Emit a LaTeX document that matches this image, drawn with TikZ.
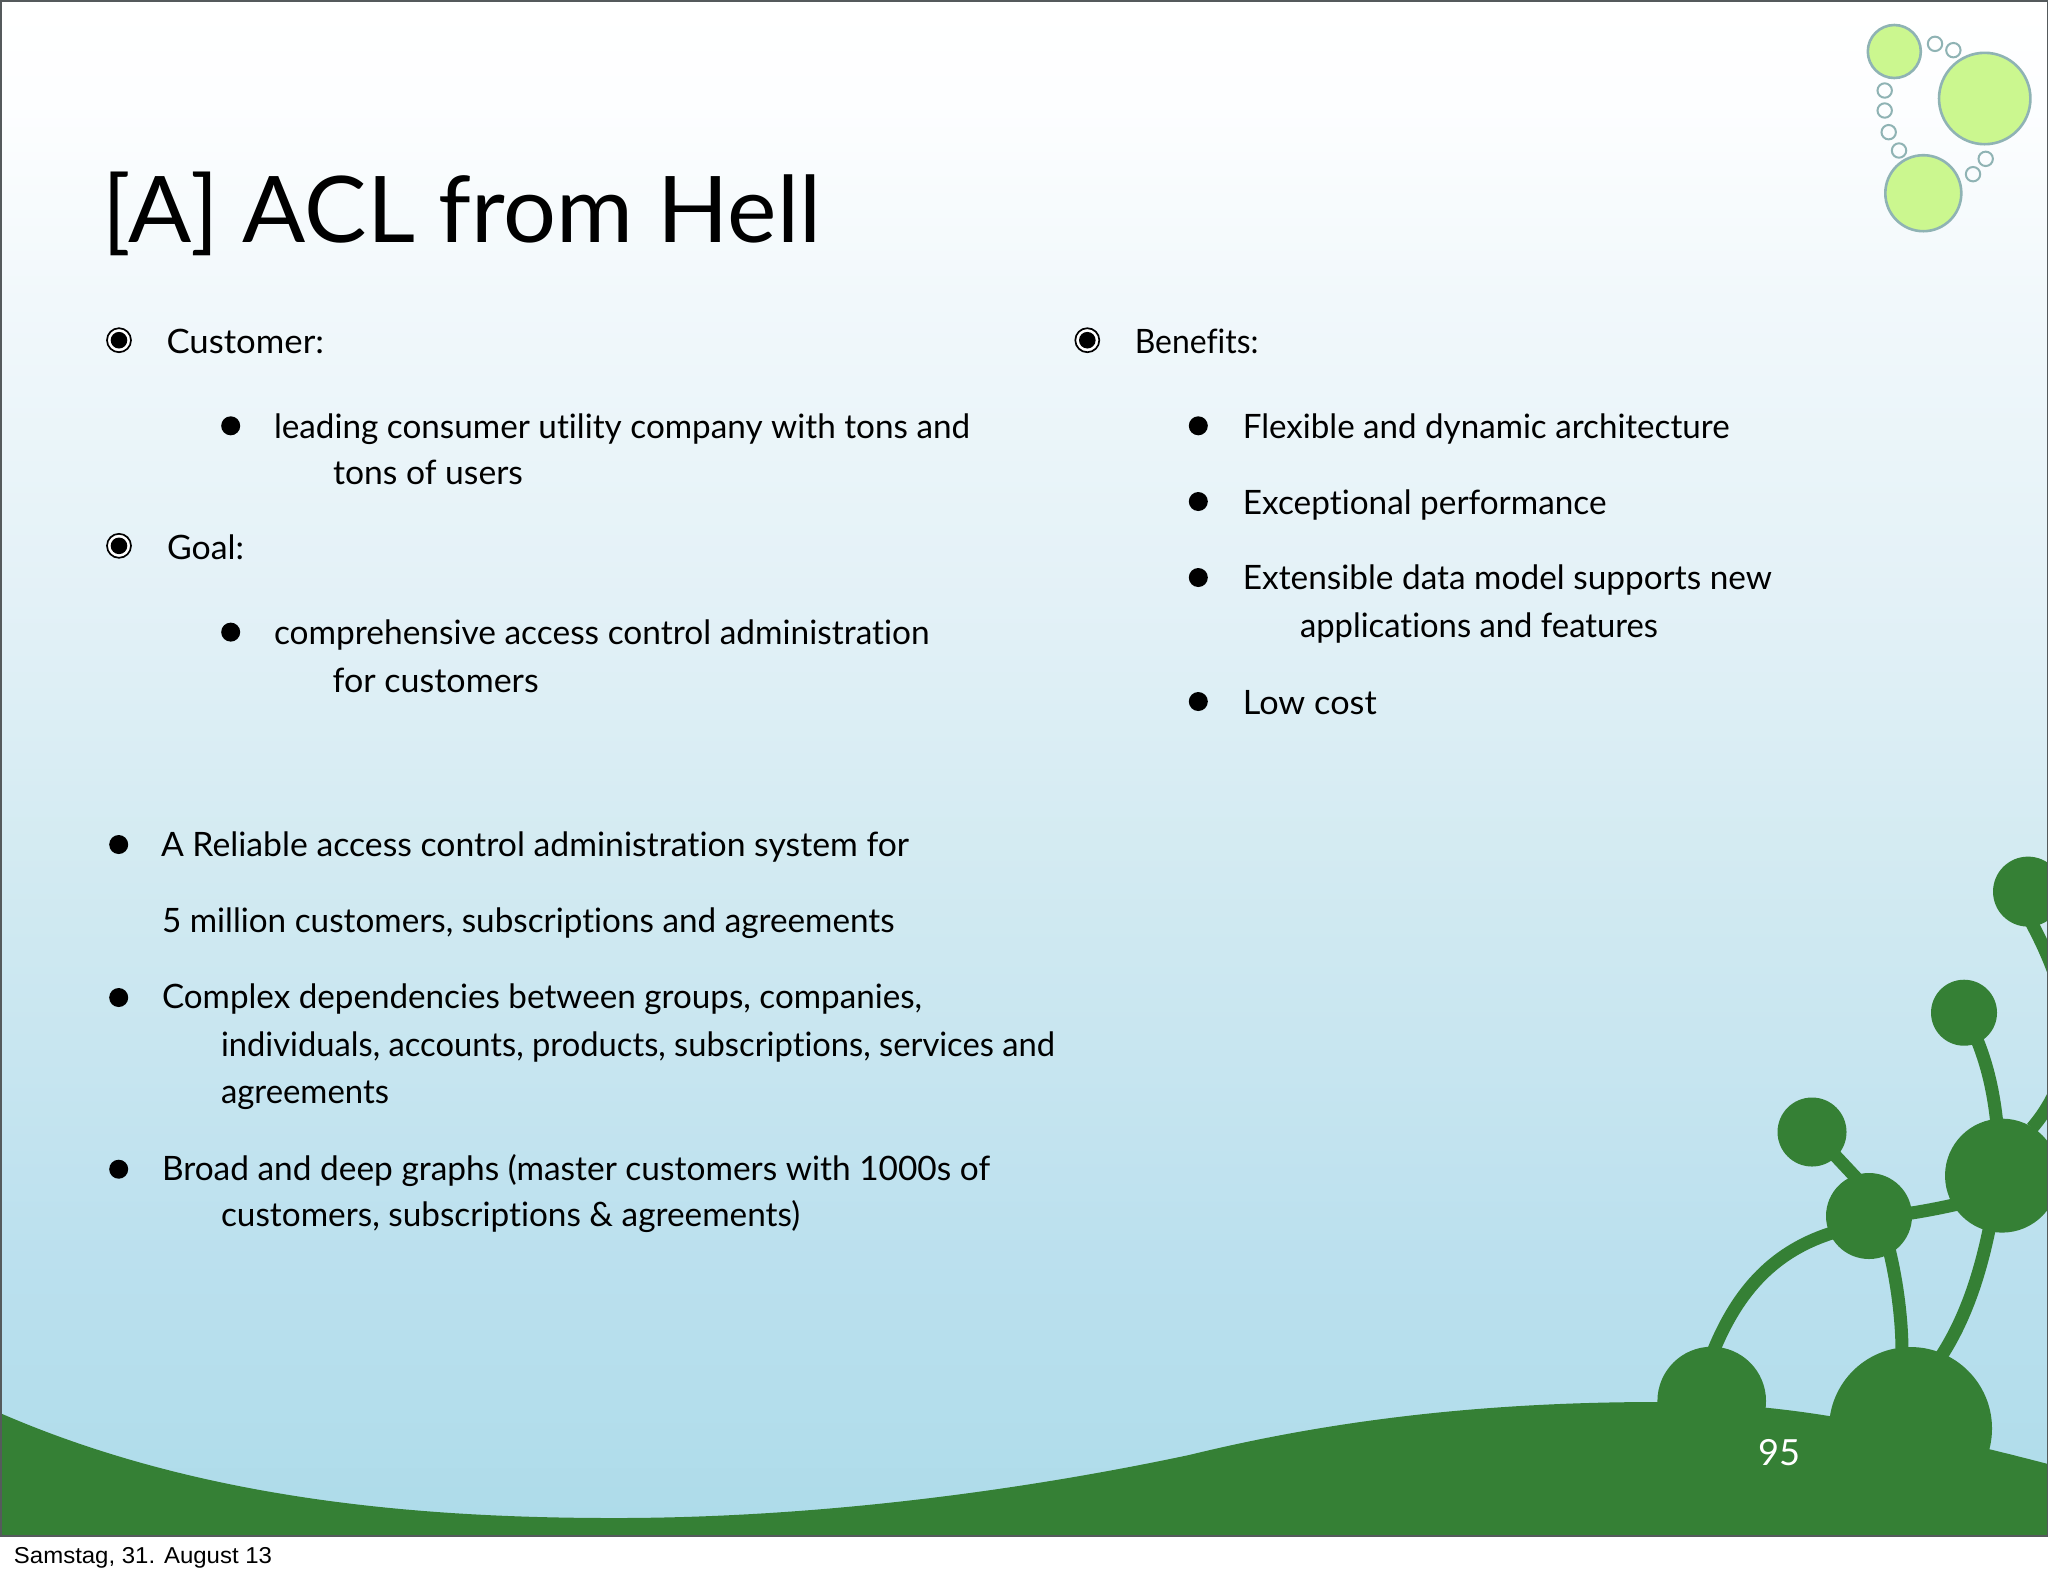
\documentclass[tikz,border=0pt]{standalone}
\usepackage{fontspec}
\usepackage{graphicx}
\setmainfont{Lato}[Ligatures=NoCommon]
\newfontfamily\footfont{Liberation Sans}
\newdimen\pxu \pxu=0.5pt
\newcommand{\fw}[2]{\resizebox{\dimexpr#1\pxu+2\pxu\relax}{\height}{#2}}
\definecolor{hill}{HTML}{358035}
\definecolor{ring}{HTML}{8FB3B4}
\definecolor{lime}{HTML}{CBF78F}
\definecolor{edgegray}{HTML}{555A5C}
\definecolor{c0}{HTML}{ADDBE9}
\definecolor{c1}{HTML}{B4DEEC}
\definecolor{c2}{HTML}{BBE0EE}
\definecolor{c3}{HTML}{D4EBF2}
\definecolor{c4}{HTML}{E3F1F7}
\definecolor{c5}{HTML}{F1F8FB}
\definecolor{c6}{HTML}{FDFEFF}
\pgfdeclareverticalshading{slidegrad}{100bp}{
 color(0bp)=(c0); color(25bp)=(c0); color(29.4bp)=(c1); color(34bp)=(c2);
 color(47.6bp)=(c3); color(55.5bp)=(c4); color(65.2bp)=(c5); color(71.7bp)=(c6);
 color(75bp)=(white); color(100bp)=(white)}
\tikzset{
 txt/.style={anchor=base west,inner sep=0pt,outer sep=0pt,text=black,font=\fontsize{16.8pt}{20pt}\selectfont},
 titletxt/.style={txt,font=\fontsize{46pt}{54pt}\selectfont},
 foot/.style={txt,font=\footfont\fontsize{11.5pt}{14pt}\selectfont},
 pagenum/.style={txt,text=white,font=\fontsize{18pt}{22pt}\selectfont},
 bigbubble/.style={fill=lime,draw=ring,line width=1.3pt},
 smallbubble/.style={draw=ring,line width=1pt},
 stem/.style={draw=hill,line width=6.5pt,line cap=butt},
 dotb/.style={fill=black},
}
\newcommand{\tgt}[2]{%
 \draw[black,line width=0.85pt,fill=white] (#1,#2) circle (12);
 \fill[black] (#1,#2) circle (8.3);}
\newcommand{\dotm}[2]{\fill[dotb] (#1,#2) circle (9.5);}
\begin{document}
\begin{tikzpicture}[x=0.5pt,y=-0.5pt]
\useasboundingbox (0,0) rectangle (2048,1576);
\fill[white] (0,0) rectangle (2048,1576);
\shade[shading=slidegrad] (0,0) rectangle (2048,1535);
\begin{scope}
\clip (0,0) rectangle (2048,1535);
% hill
\fill[hill] (0,1413) .. controls (200,1500) and (420,1518) .. (615,1518)
 .. controls (800,1518) and (1000,1495) .. (1189,1455)
 .. controls (1300,1428) and (1450,1402) .. (1657,1402)
 .. controls (1720,1402) and (1780,1408) .. (1829,1416)
 .. controls (1890,1426) and (1960,1441) .. (2048,1464)
 -- (2048,1535) -- (0,1535) -- cycle;
% mounds
\fill[hill] (1711.7,1401) circle (54.3);
\fill[hill] (1910.5,1428.5) circle (81.5);
% stems
\path[stem] (1713,1352) .. controls (1738,1290) and (1775,1250) .. (1835,1232);
\path[stem] (1888,1245) .. controls (1897,1280) and (1902,1320) .. (1902,1352);
\path[stem] (1990,1225) .. controls (1980,1275) and (1965,1320) .. (1940,1358);
\path[stem] (1905,1214) .. controls (1925,1211) and (1940,1208) .. (1958,1204);
\path[stem] (1830,1150) -- (1860,1182);
\path[stem] (1975,1035) .. controls (1988,1065) and (1994,1095) .. (1997,1125);
\path[stem] (2030,920) .. controls (2065,985) and (2090,1060) .. (2032,1128);
% heads
\fill[hill] (2028,891.6) circle (35);
\fill[hill] (1964,1012.7) circle (33);
\fill[hill] (1812,1132) circle (34.5);
\fill[hill] (1869,1216) circle (43);
\fill[hill] (2002,1175.6) circle (57);
\end{scope}
% frame
\fill[edgegray] (0,0) rectangle (2048,1.5);
\fill[edgegray] (0,0) rectangle (1.5,1537);
\fill[edgegray] (2047,0) rectangle (2048,1537);
\fill[edgegray] (0,1535) rectangle (2048,1537);
% top decoration
\draw[bigbubble] (1894.3,51.5) circle (26.5);
\draw[bigbubble] (1984.7,98.5) circle (45.7);
\draw[bigbubble] (1923.3,193.2) circle (38);
\foreach \X/\Y in {555/130,610/149,404/270,404/330,416/395,447/450,669/521,707/475}
 \draw[smallbubble] ({1750+\X/3},{\Y/3+0.5}) circle (7.2);
% title
\node[titletxt] (title) at (102,242) {\fw{717}{[A] ACL from Hell}};
\begin{scope}[shift={(-1,1.5)}]
% left upper
\tgt{120}{338.7}
\node[txt] (customer) at (167.5,352.3) {\fw{155.5}{Customer:}};
\dotm{231.7}{424.3}
\node[txt] (lead) at (275,436.7) {\fw{694}{leading consumer utility company with tons and}};
\node[txt] (tons) at (334,482.7) {\fw{188}{tons of users}};
\tgt{120}{544.3}
\node[txt] (goal) at (168,558) {\fw{75}{Goal:}};
\dotm{231.7}{630.6}
\node[txt] (compr) at (275,642.8) {\fw{653.6}{comprehensive access control administration}};
\node[txt] (forc) at (333.6,690.6) {\fw{204}{for customers}};
% left lower
\dotm{119.7}{843}
\node[txt] (rel) at (162,855) {\fw{746}{A Reliable access control administration system for}};
\node[txt] (five) at (163,931) {\fw{730.6}{5 million customers, subscriptions and agreements}};
\dotm{119.7}{996}
\node[txt] (compl) at (163,1006.7) {\fw{758}{Complex dependencies between groups, companies,}};
\node[txt] (indiv) at (222,1055) {\fw{832}{individuals, accounts, products, subscriptions, services and}};
\node[txt] (agr) at (222,1101.7) {\fw{166}{agreements}};
\dotm{119.7}{1167.7}
\node[txt] (broad) at (163,1179) {\fw{826}{Broad and deep graphs (master customers with 1000s of}};
\node[txt] (cust) at (222,1225) {\fw{577}{customers, subscriptions \& agreements)}};
% right
\tgt{1088.3}{338.7}
\node[txt] (benef) at (1135.8,352.3) {\fw{121.7}{Benefits:}};
\dotm{1199.3}{424.3}
\node[txt] (flex) at (1243.9,436.7) {\fw{484.7}{Flexible and dynamic architecture}};
\dotm{1199.3}{500}
\node[txt] (exc) at (1243.9,512.7) {\fw{361.6}{Exceptional performance}};
\dotm{1199.3}{576}
\node[txt] (ext) at (1243.9,588.3) {\fw{527}{Extensible data model supports new}};
\node[txt] (appl) at (1301,636) {\fw{356}{applications and features}};
\dotm{1199.3}{700}
\node[txt] (low) at (1243.9,712.7) {\fw{131.8}{Low cost}};
% page number and footer
\node[pagenum] (pg) at (1759,1464) {\fw{40}{95}};
\end{scope}
\node[foot] (date) at (14,1563.5) {\fw{256}{Samstag, 31. August 13}};
\end{tikzpicture}
\end{document}
